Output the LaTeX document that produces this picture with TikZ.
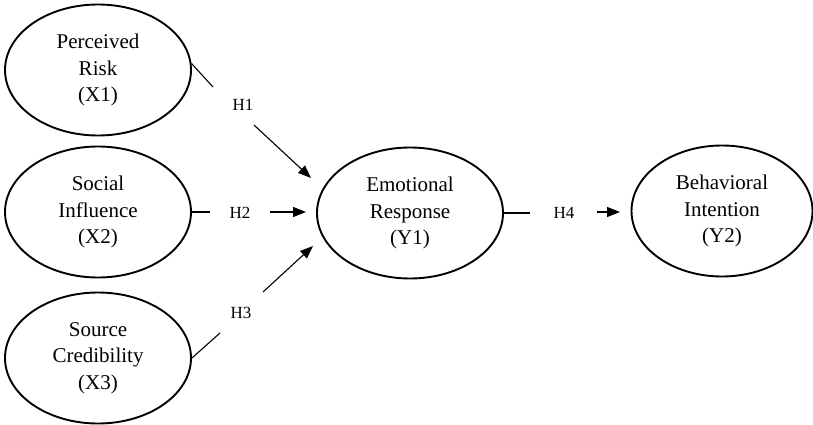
\documentclass[tikz,border=0pt]{standalone}
\usepackage{fontspec}
\setmainfont{Liberation Serif}
\usetikzlibrary{arrows.meta,shapes.geometric}
\begin{document}
\begin{tikzpicture}[x=1pt,y=-1pt,
  construct/.style={ellipse,draw,line width=1.9pt,minimum width=186pt,minimum height=131pt,inner sep=0pt,align=center,font=\fontsize{21}{26.5}\selectfont},
  hlabel/.style={font=\fontsize{17}{19}\selectfont,inner sep=0pt},
  link/.style={line width=1.1pt},
  arr/.style={line width=1.1pt,-{Triangle[length=13pt,width=10pt]}}]
\useasboundingbox (0,0) rectangle (813,425);
\node[construct] (X1) at (98,70) {Perceived\\Risk\\(X1)};
\node[construct] (X2) at (98,212) {Social\\Influence\\(X2)};
\node[construct] (X3) at (98,358) {Source\\Credibility\\(X3)};
\node[construct] (Y1) at (410,213) {Emotional\\Response\\(Y1)};
\node[construct,minimum width=181pt] (Y2) at (722,211) {Behavioral\\Intention\\(Y2)};
\node[hlabel] (h1) at (243,105) {H1};
\node[hlabel] (h2) at (240,213) {H2};
\node[hlabel] (h3) at (241,313) {H3};
\node[hlabel] (h4) at (564,213) {H4};
\coordinate (h1a) at (213,87);
\coordinate (h1b) at (254,125);
\coordinate (h1t) at (311,178);
\coordinate (h2a) at (210,212);
\coordinate (h2b) at (270,212);
\coordinate (h2t) at (306,212);
\coordinate (h3a) at (220,333);
\coordinate (h3b) at (263,292);
\coordinate (h3t) at (313,246);
\coordinate (h4a) at (530,213);
\coordinate (h4b) at (597,212);
\coordinate (h4t) at (620,212);
\draw[link] (X1.4) -- (h1a);
\draw[arr] (h1b) -- (h1t);
\draw[link] (X2.east) -- (h2a);
\draw[arr] (h2b) -- (h2t);
\draw[link] (X3.east) -- (h3a);
\draw[arr] (h3b) -- (h3t);
\draw[link] (Y1.east) -- (h4a);
\draw[arr] (h4b) -- (h4t);
\end{tikzpicture}
\end{document}
